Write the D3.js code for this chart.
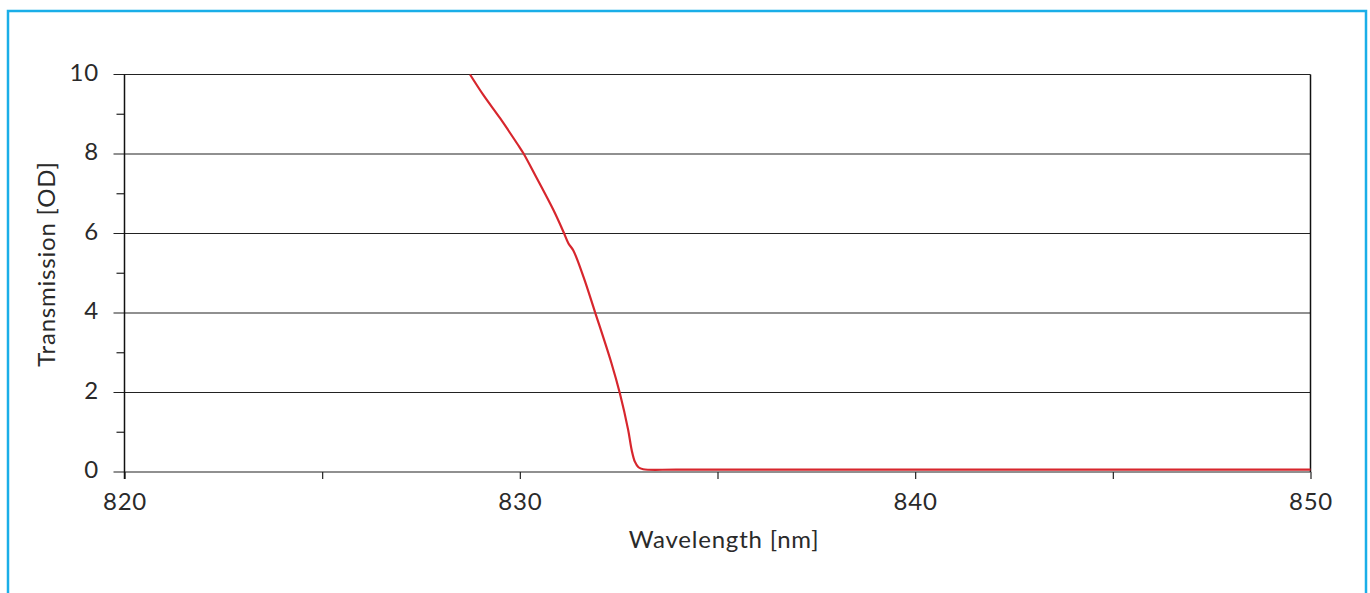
<!DOCTYPE html>
<html>
<head>
<meta charset="utf-8">
<script src="https://cdn.jsdelivr.net/npm/d3@7"></script>
<style>
  body { margin: 0; background: #fff; }
  svg text { font-family: "Lato", "Open Sans", sans-serif; fill: #2a2a2a; letter-spacing: 0.8px; }
</style>
</head>
<body>
<svg id="chart" width="1370" height="593"></svg>
<script>
// transmission curve
var wavelength = [828.74, 829.08, 829.50, 829.96, 830.09, 830.43, 830.85, 831.10, 831.23, 831.35,
                  831.61, 831.90, 832.32, 832.53, 832.74, 832.83, 832.91, 833.00, 833.12, 834, 840, 850];
var od = [10, 9.48, 8.90, 8.22, 8.02, 7.39, 6.59, 6.05, 5.75, 5.58,
          4.91, 4.03, 2.73, 1.98, 1.06, 0.55, 0.26, 0.12, 0.07, 0.06, 0.06, 0.06];
var xTicks = [820, 830, 840, 850];
var xMinorTicks = [825, 835, 845];
var yTicks = [0, 2, 4, 6, 8, 10];
var yMinorTicks = [1, 3, 5, 7, 9];

var svg = d3.select("#chart");

// light blue frame, open at the bottom
svg.append("path")
    .attr("d", "M8,593 L8,11 L1366,11 L1366,593")
    .attr("fill", "none")
    .attr("stroke", "#1aaee8")
    .attr("stroke-width", 2.5);

var plotLeft = 124.5, plotRight = 1310.5, plotTop = 74.5, plotBottom = 472;

var x = d3.scaleLinear().domain([820, 850]).range([plotLeft, plotRight]);
var y = d3.scaleLinear().domain([0, 10]).range([plotBottom, plotTop]);

// gridlines (also serve as major y ticks)
svg.selectAll(".grid")
    .data(yTicks)
    .enter().append("line")
    .attr("x1", plotLeft - 11)
    .attr("x2", plotRight)
    .attr("y1", function(d) { return y(d); })
    .attr("y2", function(d) { return y(d); })
    .attr("stroke", "#222")
    .attr("stroke-width", 1.2);

svg.selectAll(".yminor")
    .data(yMinorTicks)
    .enter().append("line")
    .attr("x1", plotLeft - 8)
    .attr("x2", plotLeft)
    .attr("y1", function(d) { return y(d); })
    .attr("y2", function(d) { return y(d); })
    .attr("stroke", "#222")
    .attr("stroke-width", 1.2);

// x axis with ticks
var xAxis = d3.axisBottom(x)
    .tickValues(xTicks.concat(xMinorTicks))
    .tickSize(7)
    .tickFormat(function(d) { return xTicks.indexOf(d) >= 0 ? d : ""; });

var gx = svg.append("g")
    .attr("transform", "translate(0," + plotBottom + ")")
    .call(xAxis);
gx.select(".domain").remove();
gx.selectAll(".tick line").attr("stroke", "#222").attr("stroke-width", 1.2);
gx.selectAll(".tick text")
    .attr("y", 38)
    .attr("dy", 0)
    .attr("font-size", 24)
    .attr("font-family", "Lato, sans-serif")
    .attr("fill", "#2a2a2a");

// left and right axis lines
svg.append("line")
    .attr("x1", plotLeft).attr("x2", plotLeft)
    .attr("y1", plotTop).attr("y2", plotBottom + 7)
    .attr("stroke", "#111").attr("stroke-width", 1.5);
svg.append("line")
    .attr("x1", plotRight).attr("x2", plotRight)
    .attr("y1", plotTop).attr("y2", plotBottom)
    .attr("stroke", "#111").attr("stroke-width", 1.5);

// y tick labels
svg.selectAll(".ylabel")
    .data(yTicks)
    .enter().append("text")
    .attr("x", 99)
    .attr("y", function(d) { return y(d) + 6; })
    .attr("text-anchor", "end")
    .attr("font-size", 24)
    .text(function(d) { return d; });

// curve
var line = d3.line()
    .x(function(d) { return x(d[0]); })
    .y(function(d) { return y(d[1]); })
    .curve(d3.curveCatmullRom);

svg.append("path")
    .datum(d3.zip(wavelength, od))
    .attr("d", line)
    .attr("fill", "none")
    .attr("stroke", "#d7262d")
    .attr("stroke-width", 2.2);

// axis titles
svg.append("text")
    .attr("x", 724)
    .attr("y", 548)
    .attr("text-anchor", "middle")
    .attr("font-size", 24)
    .text("Wavelength [nm]");

svg.append("text")
    .attr("transform", "translate(55,264) rotate(-90)")
    .attr("text-anchor", "middle")
    .attr("font-size", 24)
    .text("Transmission [OD]");
</script>
</body>
</html>
